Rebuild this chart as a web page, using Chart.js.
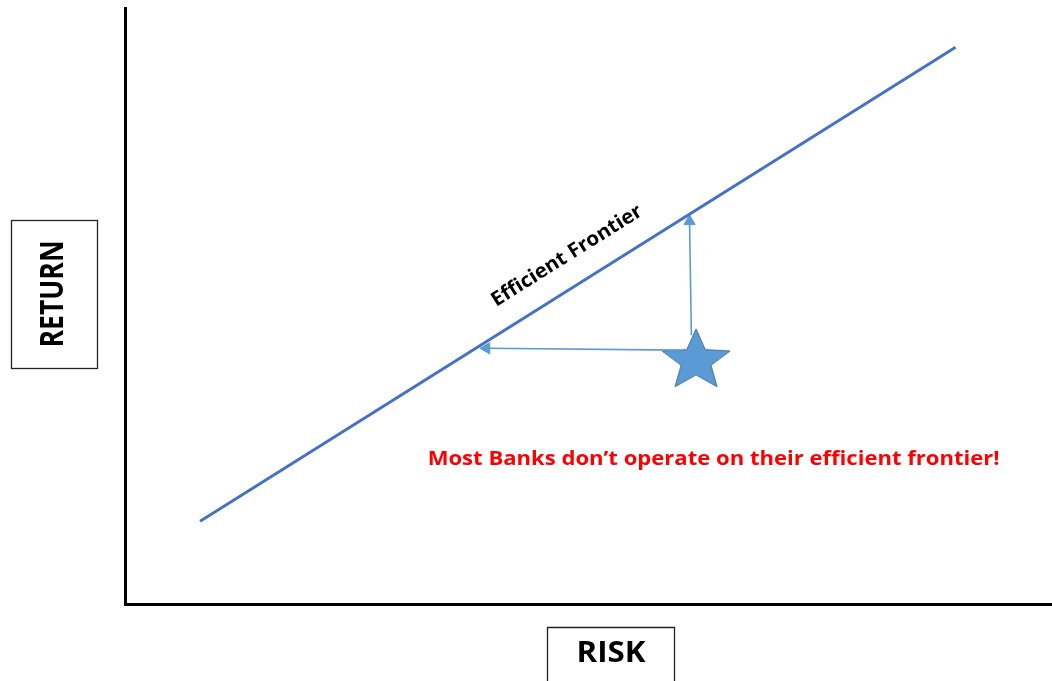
<!DOCTYPE html>
<html>
<head>
<meta charset="utf-8">
<title>Efficient Frontier</title>
<script src="https://cdn.jsdelivr.net/npm/chart.js@4.4.1/dist/chart.umd.min.js"></script>
<style>
  html, body { margin: 0; padding: 0; background: #fff; }
  #wrap { width: 1052px; height: 681px; }
</style>
</head>
<body>
<div id="wrap"><canvas id="frontierChart"></canvas></div>
<script>
// Frontier line (risk -> return)
const frontierRisk = [8.1, 89.6];
const frontierReturn = [13.9, 93.4];

// Where the bank sits today
const bankRisk = [61.6];
const bankReturn = [40.8];

// Arrows toward the frontier: same risk / same return
const sameReturnRisk = [59.8, 39.0];
const sameReturnReturn = [42.6, 42.9];
const sameRiskRisk = [61.1, 60.9];
const sameRiskReturn = [45.1, 64.2];

// Texts
const axisTitles = { x: 'RISK', y: 'RETURN' };
const frontierLabel = 'Efficient Frontier';
const note = 'Most Banks don\u2019t operate on their efficient frontier!';

const toPoints = (xs, ys) => xs.map((x, i) => ({ x, y: ys[i] }));

// Filled star used as the bank marker
function makeStar(outer, inner, stretch) {
    const c = document.createElement('canvas');
    const w = Math.ceil(outer * 2 * stretch) + 4, h = Math.ceil(outer * 2) + 4;
    c.width = w; c.height = h;
    const ctx = c.getContext('2d');
    const cx = w / 2, cy = outer + 2;
    ctx.beginPath();
    for (let i = 0; i < 10; i++) {
        const r = i % 2 === 0 ? outer : inner;
        const a = -Math.PI / 2 + i * Math.PI / 5;
        const px = cx + Math.cos(a) * r * stretch, py = cy + Math.sin(a) * r;
        i === 0 ? ctx.moveTo(px, py) : ctx.lineTo(px, py);
    }
    ctx.closePath();
    ctx.fillStyle = '#5b9bd5';
    ctx.fill();
    ctx.strokeStyle = '#41719c';
    ctx.lineWidth = 1;
    ctx.stroke();
    return c;
}
const starImg = makeStar(32, 14, 1.12);

// Text centred on the current origin, stretched/squeezed to a given width
function fitText(ctx, text, width) {
    const w = ctx.measureText(text).width;
    ctx.save();
    ctx.scale(width / w, 1);
    ctx.fillText(text, 0, 0);
    ctx.restore();
}

// Boxed axis titles, frontier caption and the red note
const annotations = {
    id: 'annotations',
    afterDatasetsDraw(chart) {
        const { ctx, scales: { x, y } } = chart;
        ctx.save();
        ctx.textAlign = 'center';
        ctx.textBaseline = 'middle';

        // RETURN box
        ctx.strokeStyle = '#222';
        ctx.lineWidth = 1.3;
        ctx.strokeRect(11.5, 220.5, 86, 148);
        ctx.translate(54, 294);
        ctx.rotate(-Math.PI / 2);
        ctx.fillStyle = '#000';
        ctx.font = 'bold 32px "Open Sans"';
        fitText(ctx, axisTitles.y, 107);
        ctx.setTransform(1, 0, 0, 1, 0, 0);

        // RISK box
        ctx.beginPath();
        ctx.moveTo(547.5, 690);
        ctx.lineTo(547.5, 627.5);
        ctx.lineTo(674.5, 627.5);
        ctx.lineTo(674.5, 690);
        ctx.stroke();
        ctx.font = 'bold 28px "Open Sans"';
        ctx.translate(611, 654);
        fitText(ctx, axisTitles.x, 69);
        ctx.setTransform(1, 0, 0, 1, 0, 0);

        // caption along the frontier
        const x0 = x.getPixelForValue(frontierRisk[0]), y0 = y.getPixelForValue(frontierReturn[0]);
        const x1 = x.getPixelForValue(frontierRisk[1]), y1 = y.getPixelForValue(frontierReturn[1]);
        const ang = Math.atan2(y1 - y0, x1 - x0);
        ctx.translate(x.getPixelForValue(48.0), y.getPixelForValue(57.6));
        ctx.rotate(ang);
        ctx.font = 'bold 20px "Open Sans"';
        ctx.textBaseline = 'alphabetic';
        fitText(ctx, frontierLabel, 174);
        ctx.setTransform(1, 0, 0, 1, 0, 0);

        // red note
        ctx.fillStyle = '#ff0000';
        ctx.font = 'bold 20px "Open Sans"';
        ctx.textBaseline = 'middle';
        ctx.translate(x.getPixelForValue(63.5), y.getPixelForValue(24.2));
        fitText(ctx, note, 572);
        ctx.setTransform(1, 0, 0, 1, 0, 0);

        ctx.restore();
    }
};

const arrowHead = (rot) => ({
    pointRadius: [0, 6.5],
    pointHoverRadius: [0, 6.5],
    pointStyle: 'triangle',
    pointRotation: [0, rot],
    pointBackgroundColor: '#5b9bd5',
    pointBorderColor: '#5b9bd5',
    pointBorderWidth: 1
});

new Chart(document.getElementById('frontierChart'), {
    type: 'scatter',
    data: {
        datasets: [
            {
                label: 'Efficient Frontier',
                data: toPoints(frontierRisk, frontierReturn),
                showLine: true,
                borderColor: '#4472c4',
                borderWidth: 3,
                pointRadius: 0
            },
            Object.assign({
                label: 'same return',
                data: toPoints(sameReturnRisk, sameReturnReturn),
                showLine: true,
                borderColor: '#5b9bd5',
                borderWidth: 1.6
            }, arrowHead(-90)),
            Object.assign({
                label: 'same risk',
                data: toPoints(sameRiskRisk, sameRiskReturn),
                showLine: true,
                borderColor: '#5b9bd5',
                borderWidth: 1.6
            }, arrowHead(0)),
            {
                label: 'Bank',
                data: toPoints(bankRisk, bankReturn),
                pointStyle: starImg,
                pointRadius: 30
            }
        ]
    },
    options: {
        responsive: true,
        maintainAspectRatio: false,
        animation: false,
        events: [],
        // big star marker would otherwise pad the chart area
        layout: { autoPadding: false, padding: { left: 125, right: 0, top: 8, bottom: 77 } },
        plugins: {
            legend: { display: false },
            tooltip: { enabled: false }
        },
        scales: {
            x: {
                min: 0, max: 100,
                grid: { display: false, drawTicks: false },
                ticks: { display: false },
                border: { color: '#000', width: 3 }
            },
            y: {
                min: 0, max: 100,
                grid: { display: false, drawTicks: false },
                ticks: { display: false },
                border: { color: '#000', width: 3 }
            }
        }
    },
    plugins: [annotations]
});
</script>
</body>
</html>
